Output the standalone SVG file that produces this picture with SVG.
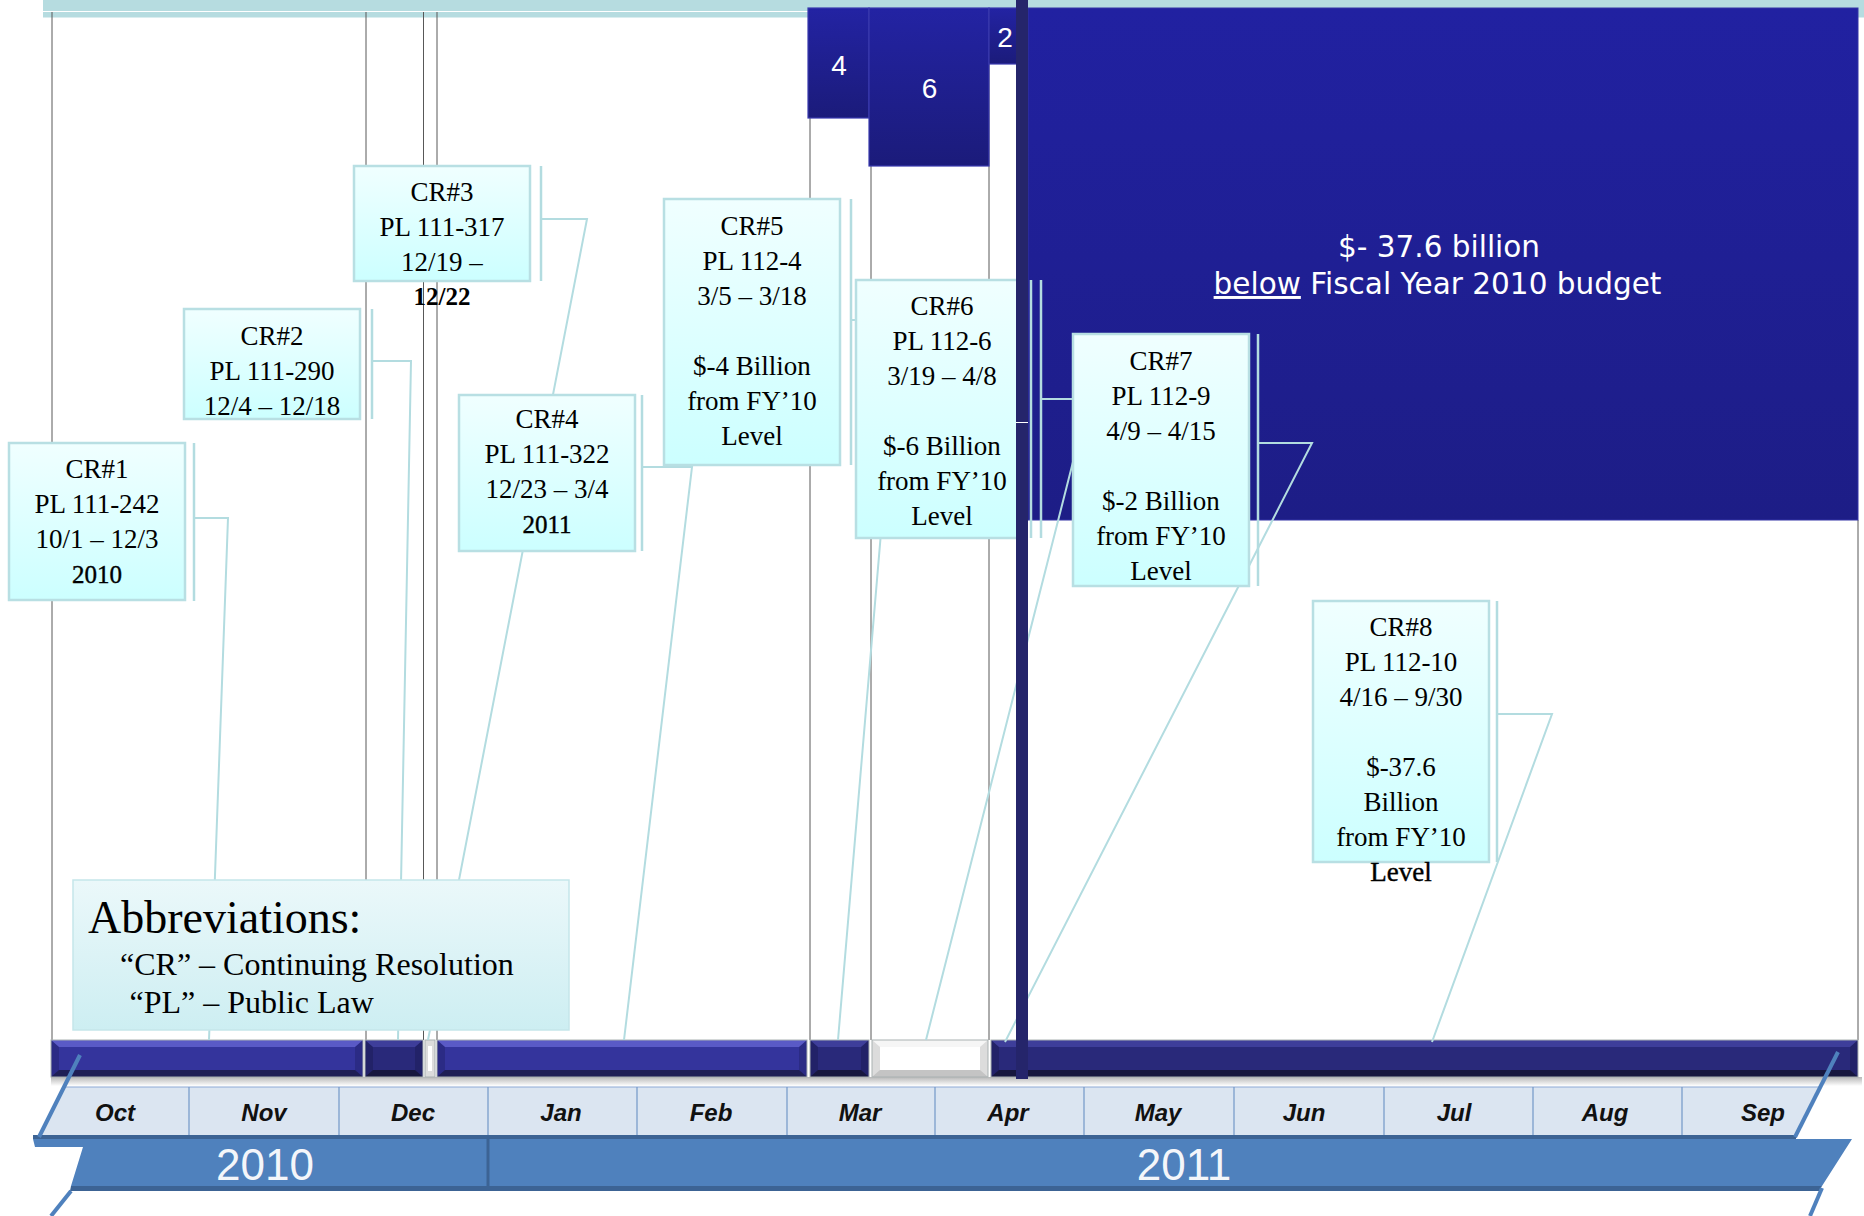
<svg xmlns="http://www.w3.org/2000/svg" width="1864" height="1216" viewBox="0 0 1864 1216">
  <defs>
    <linearGradient id="boxGrad" x1="0" y1="0" x2="0" y2="1">
      <stop offset="0" stop-color="#f0ffff"/>
      <stop offset="1" stop-color="#ccffff"/>
    </linearGradient>
    <linearGradient id="abbrGrad" x1="0" y1="0" x2="0" y2="1">
      <stop offset="0" stop-color="#ebf8fa"/>
      <stop offset="1" stop-color="#cdeef2"/>
    </linearGradient>
    <linearGradient id="blockGrad" x1="0" y1="0" x2="0" y2="1">
      <stop offset="0" stop-color="#2323a3"/>
      <stop offset="1" stop-color="#1b1b7a"/>
    </linearGradient>
    <linearGradient id="bigGrad" x1="0" y1="0" x2="0" y2="1">
      <stop offset="0" stop-color="#2121a1"/>
      <stop offset="1" stop-color="#1d1d86"/>
    </linearGradient>
    <linearGradient id="shadowGrad" x1="0" y1="0" x2="0" y2="1">
      <stop offset="0" stop-color="#b8b8b8"/>
      <stop offset="1" stop-color="#ffffff"/>
    </linearGradient>
    <style>
      .box { fill: url(#boxGrad); stroke: #b8dfe3; stroke-width: 2.5; }
      .lbl { font-family: "Liberation Serif", "Times New Roman", serif; font-size: 27px; fill: #000; text-anchor: middle; }
      .cn { fill: none; stroke: #b3dce0; stroke-width: 2; }
      .acc { stroke: #b3dce0; stroke-width: 2.5; }
      .vl { stroke: #585858; stroke-width: 1; }
      .blk { fill: url(#blockGrad); stroke: #3a3aae; stroke-width: 1.2; }
      .num { font-family: "Liberation Sans Narrow", "Liberation Sans", Arial, sans-serif; font-size: 28px; fill: #fff; text-anchor: middle; }
      .big { font-family: "DejaVu Sans", Verdana, sans-serif; font-size: 29.5px; fill: #fff; text-anchor: middle; }
      .mon { font-family: "Liberation Sans", Arial, sans-serif; font-weight: bold; font-style: italic; font-size: 24px; fill: #111; text-anchor: middle; }
      .yr { font-family: "Liberation Sans", Arial, sans-serif; font-size: 44px; fill: #f4f6fa; text-anchor: middle; }
      .sep { stroke: #7297c8; stroke-width: 1.2; }
      .brk { stroke: #4f81bd; stroke-width: 4; fill: none; }
      .segb { fill: none; stroke: #a9b1b2; stroke-width: 1; }
      .l-side { fill: #2b2b85; } .l-top { fill: #5a5ac6; } .l-bot { fill: #1f1f55; } .l-face { fill: #34349c; }
      .d-side { fill: #222268; } .d-top { fill: #3e3e9a; } .d-bot { fill: #17173e; } .d-face { fill: #29297a; }
      .w-side { fill: #dcdcdc; } .w-top { fill: #f6f6f6; } .w-bot { fill: #c4c4c4; } .w-face { fill: #ffffff; }
      .abbr { font-family: "Liberation Serif", "Times New Roman", serif; fill: #000; }
    </style>
  </defs>

  <rect width="1864" height="1216" fill="#ffffff"/>

  <!-- top rule -->
  <rect x="43" y="0" width="1821" height="17.5" fill="#b6dce0"/>
  <line x1="43" y1="11.5" x2="808" y2="11.5" stroke="#ffffff" stroke-width="1"/>

  <!-- thin date guides -->
  <g id="guides">
    <line class="vl" x1="52" y1="12" x2="52" y2="1040"/>
    <line class="vl" x1="366" y1="12" x2="366" y2="1040"/>
    <line class="vl" x1="423.5" y1="12" x2="423.5" y2="1040" stroke="#222"/>
    <line class="vl" x1="437" y1="12" x2="437" y2="1040"/>
    <line class="vl" x1="810" y1="118" x2="810" y2="1040"/>
    <line class="vl" x1="871" y1="166" x2="871" y2="1040"/>
    <line class="vl" x1="989" y1="64" x2="989" y2="1040"/>
    <line class="vl" x1="1858" y1="520" x2="1858" y2="1040"/>
  </g>

  <!-- funding blocks -->
  <g id="blocks">
    <rect class="blk" x="808" y="8" width="61" height="110"/>
    <text class="num" x="839" y="75">4</text>
    <rect class="blk" x="869" y="8" width="120" height="158"/>
    <text class="num" x="929.5" y="98">6</text>
    <rect class="blk" x="989" y="8" width="29" height="56"/>
    <text class="num" x="1005" y="47">2</text>
    <rect x="1028" y="8" width="830" height="512" fill="url(#bigGrad)" stroke="#3434a6" stroke-width="1"/>
    <text class="big" x="1439" y="257">$- 37.6 billion</text>
    <text class="big" x="1437.5" y="294"><tspan text-decoration="underline">below</tspan> Fiscal Year 2010 budget</text>
  </g>

  <!-- timeline bar -->
  <g id="bar">
    <rect x="51" y="1077" width="1811" height="9" fill="url(#shadowGrad)"/>
    <!-- seg 1 -->
    <rect class="l-side" x="51" y="1040" width="312" height="37"/>
    <polygon class="l-top" points="51,1040 363,1040 355,1047 59,1047"/>
    <polygon class="l-bot" points="51,1077 363,1077 355,1070 59,1070"/>
    <rect class="l-face" x="59" y="1047" width="296" height="23"/>
    <rect class="segb" x="51" y="1040" width="312" height="37"/>
    <!-- seg 2 -->
    <rect class="d-side" x="365" y="1040" width="58" height="37"/>
    <polygon class="d-top" points="365,1040 423,1040 415,1047 373,1047"/>
    <polygon class="d-bot" points="365,1077 423,1077 415,1070 373,1070"/>
    <rect class="d-face" x="373" y="1047" width="42" height="23"/>
    <rect class="segb" x="365" y="1040" width="58" height="37"/>
    <!-- seg 2b -->
    <rect class="w-side" x="425" y="1040" width="10" height="37"/>
    <rect class="w-face" x="428" y="1046" width="4" height="25"/>
    <rect class="segb" x="425" y="1040" width="10" height="37"/>
    <!-- seg 3 -->
    <rect class="l-side" x="437" y="1040" width="370" height="37"/>
    <polygon class="l-top" points="437,1040 807,1040 799,1047 445,1047"/>
    <polygon class="l-bot" points="437,1077 807,1077 799,1070 445,1070"/>
    <rect class="l-face" x="445" y="1047" width="354" height="23"/>
    <rect class="segb" x="437" y="1040" width="370" height="37"/>
    <!-- seg 4 -->
    <rect class="d-side" x="810" y="1040" width="59" height="37"/>
    <polygon class="d-top" points="810,1040 869,1040 861,1047 818,1047"/>
    <polygon class="d-bot" points="810,1077 869,1077 861,1070 818,1070"/>
    <rect class="d-face" x="818" y="1047" width="43" height="23"/>
    <rect class="segb" x="810" y="1040" width="59" height="37"/>
    <!-- seg 5 -->
    <rect class="w-side" x="872" y="1040" width="116" height="37"/>
    <polygon class="w-top" points="872,1040 988,1040 980,1047 880,1047"/>
    <polygon class="w-bot" points="872,1077 988,1077 980,1070 880,1070"/>
    <rect class="w-face" x="880" y="1047" width="100" height="23"/>
    <rect class="segb" x="872" y="1040" width="116" height="37"/>
    <!-- seg 6 -->
    <rect class="d-side" x="991" y="1040" width="867" height="37"/>
    <polygon class="d-top" points="991,1040 1858,1040 1850,1047 999,1047"/>
    <polygon class="d-bot" points="991,1077 1858,1077 1850,1070 999,1070"/>
    <rect class="d-face" x="999" y="1047" width="851" height="23"/>
    <rect class="segb" x="991" y="1040" width="867" height="37"/>
  </g>

  <!-- month and year scale -->
  <g id="scale">
    <polygon points="64,1087 1820,1087 1796,1135 39,1135" fill="#dbe5f1"/>
    <line x1="64" y1="1087" x2="1820" y2="1087" stroke="#8eaad6" stroke-width="1.2"/>
    <line class="sep" x1="189" y1="1087" x2="189" y2="1135"/>
    <line class="sep" x1="339" y1="1087" x2="339" y2="1135"/>
    <line class="sep" x1="488" y1="1087" x2="488" y2="1135"/>
    <line class="sep" x1="637" y1="1087" x2="637" y2="1135"/>
    <line class="sep" x1="787" y1="1087" x2="787" y2="1135"/>
    <line class="sep" x1="935" y1="1087" x2="935" y2="1135"/>
    <line class="sep" x1="1084" y1="1087" x2="1084" y2="1135"/>
    <line class="sep" x1="1234" y1="1087" x2="1234" y2="1135"/>
    <line class="sep" x1="1384" y1="1087" x2="1384" y2="1135"/>
    <line class="sep" x1="1533" y1="1087" x2="1533" y2="1135"/>
    <line class="sep" x1="1682" y1="1087" x2="1682" y2="1135"/>
    <text class="mon" x="115" y="1121">Oct</text>
    <text class="mon" x="264" y="1121">Nov</text>
    <text class="mon" x="413" y="1121">Dec</text>
    <text class="mon" x="561" y="1121">Jan</text>
    <text class="mon" x="711" y="1121">Feb</text>
    <text class="mon" x="860" y="1121">Mar</text>
    <text class="mon" x="1008" y="1121">Apr</text>
    <text class="mon" x="1158" y="1121">May</text>
    <text class="mon" x="1304" y="1121">Jun</text>
    <text class="mon" x="1454" y="1121">Jul</text>
    <text class="mon" x="1605" y="1121">Aug</text>
    <text class="mon" x="1763" y="1121">Sep</text>

    <rect x="33" y="1135" width="1763" height="4" fill="#3c6394"/>
    <polygon points="33,1139 1852,1139 1822,1186 71,1186 83,1147 35,1147" fill="#4f81bd"/>
    <polygon points="71,1186 1822,1186 1819,1191 70,1191" fill="#3c6394"/>
    <line x1="488" y1="1139" x2="488" y2="1186" stroke="#3c6394" stroke-width="3"/>
    <text class="yr" x="265" y="1180">2010</text>
    <text class="yr" x="1184" y="1180">2011</text>

    <line class="brk" x1="80" y1="1055" x2="39" y2="1137"/>
    <line class="brk" x1="71" y1="1191" x2="51" y2="1216"/>
    <line class="brk" x1="1838" y1="1052" x2="1795" y2="1137"/>
    <line class="brk" x1="1822" y1="1188" x2="1810" y2="1216"/>
  </g>

  <!-- callout leaders -->
  <g id="connectors">
    <line class="acc" x1="194" y1="443" x2="194" y2="601"/>
    <path class="cn" d="M194,518 H228 L209,1040"/>
    <line class="acc" x1="372" y1="309" x2="372" y2="419"/>
    <path class="cn" d="M372,361 H411 L398,1040"/>
    <line class="acc" x1="541" y1="166" x2="541" y2="281"/>
    <path class="cn" d="M541,219 H587 L428,1040"/>
    <line class="acc" x1="642" y1="395" x2="642" y2="551"/>
    <path class="cn" d="M642,467 H692 L624,1040"/>
    <line class="acc" x1="851" y1="199" x2="851" y2="465"/>
    <path class="cn" d="M851,320 H899 L838,1040"/>
    <line class="acc" x1="1031" y1="280" x2="1031" y2="538"/>
    <line class="acc" x1="1041" y1="280" x2="1041" y2="538"/>
    <path class="cn" d="M1041,399 H1089 L926,1040"/>
    <line class="acc" x1="1258" y1="334" x2="1258" y2="586"/>
    <path class="cn" d="M1258,443 H1312 L1005,1042"/>
    <line class="acc" x1="1497" y1="601" x2="1497" y2="862"/>
    <path class="cn" d="M1497,714 H1552 L1432,1042"/>
  </g>

  <!-- resolution boxes -->
  <g id="cr1">
    <rect class="box" x="9" y="443" width="176" height="157"/>
    <text class="lbl"><tspan x="97" y="478">CR#1</tspan><tspan x="97" y="513">PL 111-242</tspan><tspan x="97" y="548">10/1 – 12/3</tspan><tspan x="97" y="583" font-size="25" stroke="#000" stroke-width="0.4">2010</tspan></text>
  </g>
  <g id="cr2">
    <rect class="box" x="184" y="309" width="176" height="110"/>
    <text class="lbl"><tspan x="272" y="345">CR#2</tspan><tspan x="272" y="380">PL 111-290</tspan><tspan x="272" y="415">12/4 – 12/18</tspan></text>
  </g>
  <g id="cr3">
    <rect class="box" x="354" y="166" width="176" height="115"/>
    <text class="lbl"><tspan x="442" y="201">CR#3</tspan><tspan x="442" y="236">PL 111-317</tspan><tspan x="442" y="271">12/19 –</tspan><tspan x="442" y="305" font-size="25" font-weight="bold">12/22</tspan></text>
  </g>
  <g id="cr4">
    <rect class="box" x="459" y="395" width="176" height="156"/>
    <text class="lbl"><tspan x="547" y="428">CR#4</tspan><tspan x="547" y="463">PL 111-322</tspan><tspan x="547" y="498">12/23 – 3/4</tspan><tspan x="547" y="533" font-size="25" stroke="#000" stroke-width="0.4">2011</tspan></text>
  </g>
  <g id="cr5">
    <rect class="box" x="664" y="199" width="176" height="266"/>
    <text class="lbl"><tspan x="752" y="235">CR#5</tspan><tspan x="752" y="270">PL 112-4</tspan><tspan x="752" y="305">3/5 – 3/18</tspan><tspan x="752" y="375">$-4 Billion</tspan><tspan x="752" y="410">from FY’10</tspan><tspan x="752" y="445">Level</tspan></text>
  </g>
  <g id="cr6">
    <rect class="box" x="856" y="280" width="164" height="258"/>
    <text class="lbl"><tspan x="942" y="315">CR#6</tspan><tspan x="942" y="350">PL 112-6</tspan><tspan x="942" y="385">3/19 – 4/8</tspan><tspan x="942" y="455">$-6 Billion</tspan><tspan x="942" y="490">from FY’10</tspan><tspan x="942" y="525">Level</tspan></text>
  </g>
  <g id="cr7">
    <rect class="box" x="1073" y="334" width="176" height="252"/>
    <text class="lbl"><tspan x="1161" y="370">CR#7</tspan><tspan x="1161" y="405">PL 112-9</tspan><tspan x="1161" y="440">4/9 – 4/15</tspan><tspan x="1161" y="510">$-2 Billion</tspan><tspan x="1161" y="545">from FY’10</tspan><tspan x="1161" y="580">Level</tspan></text>
  </g>
  <g id="cr8">
    <rect class="box" x="1313" y="601" width="176" height="261"/>
    <text class="lbl"><tspan x="1401" y="636">CR#8</tspan><tspan x="1401" y="671">PL 112-10</tspan><tspan x="1401" y="706">4/16 – 9/30</tspan><tspan x="1401" y="776">$-37.6</tspan><tspan x="1401" y="811">Billion</tspan><tspan x="1401" y="846">from FY’10</tspan><tspan x="1401" y="881" stroke="#000" stroke-width="0.4">Level</tspan></text>
  </g>

  <!-- legend -->
  <g id="abbreviations">
    <rect x="73" y="880" width="496" height="150" fill="url(#abbrGrad)" stroke="#c5e6ea" stroke-width="1.5"/>
    <text class="abbr" x="88" y="933" font-size="46">Abbreviations:</text>
    <text class="abbr" x="120" y="975" font-size="32">“CR” – Continuing Resolution</text>
    <text class="abbr" x="129.5" y="1013" font-size="32">“PL” – Public Law</text>
  </g>

  <!-- cut-off marker -->
  <rect id="cutoff" x="1016" y="0" width="12" height="1079" fill="#25256b"/>
  <line x1="1016" y1="422.5" x2="1028" y2="422.5" stroke="#ffffff" stroke-width="1"/>
</svg>
